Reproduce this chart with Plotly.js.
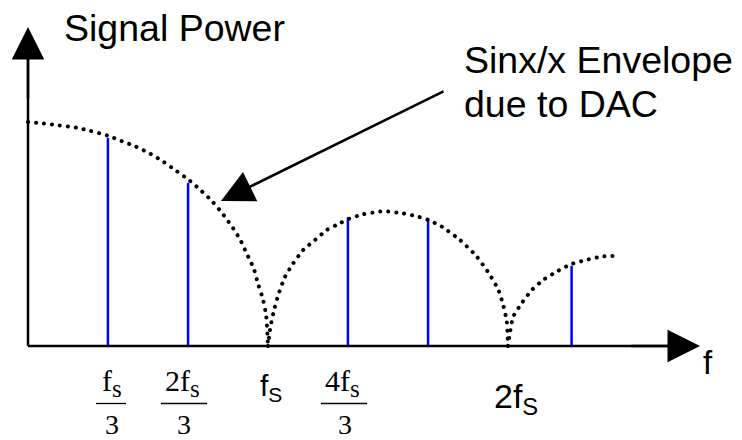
<!DOCTYPE html>
<html><head><meta charset="utf-8">
<script src="https://cdn.plot.ly/plotly-3.0.1.min.js"></script>
<style>
html,body{margin:0;padding:0;background:#fff;}
#chart{width:742px;height:440px;}
.scatterlayer .js-line{stroke-linecap:round;}
</style></head><body><div id="chart"></div>
<script>
// Envelope (sin x / x), frequency in units of fs, amplitude relative to DC
const lobe1F = [0, 0.065, 0.13, 0.2, 0.26, 0.33, 0.39, 0.45, 0.51, 0.565, 0.62, 0.675, 0.725, 0.77, 0.815, 0.855, 0.885, 0.91, 0.94, 0.96, 0.98, 0.993, 1.0];
const lobe1A = [1.0, 0.993, 0.985, 0.975, 0.96, 0.94, 0.915, 0.89, 0.858, 0.822, 0.78, 0.737, 0.69, 0.643, 0.585, 0.525, 0.473, 0.415, 0.347, 0.272, 0.205, 0.13, 0];
const lobe2F = [1.0, 1.008, 1.022, 1.043, 1.071, 1.105, 1.147, 1.196, 1.245, 1.3, 1.335, 1.397, 1.467, 1.5, 1.564, 1.626, 1.668, 1.724, 1.8, 1.87, 1.925, 1.96, 1.98, 1.995, 2.0];
const lobe2A = [0, 0.071, 0.146, 0.228, 0.309, 0.369, 0.429, 0.473, 0.518, 0.548, 0.567, 0.588, 0.6, 0.6, 0.592, 0.577, 0.5625, 0.533, 0.473, 0.399, 0.317, 0.25, 0.183, 0.108, 0];
const lobe3F = [2.0, 2.008, 2.022, 2.057, 2.099, 2.147, 2.203, 2.2625, 2.325, 2.39, 2.455];
const lobe3A = [0, 0.057, 0.131, 0.191, 0.25, 0.295, 0.332, 0.365, 0.384, 0.399, 0.403];

// Signal tones (blue lines)
const toneF = [0.333, 0.667, 1.333, 1.667, 2.265];
const toneA = [0.924, 0.723, 0.569, 0.567, 0.354];

// Tick labels
const fracF = [1/3, 2/3, 4/3];
const fracNum = ['f', '2f', '4f'];
const fracSub = ['s', 's', 's'];
const fracDen = ['3', '3', '3'];
const plainF = [1, 2];
const plainLab = ['f<sub>S</sub>', '2f<sub>S</sub>'];

// ---- pixel helpers (layout only) ----
const X0 = 28, PXF = 240, Y0 = 346, PYA = 224;
const px2x = p => (p - X0) / PXF;
const py2y = p => (Y0 - p) / PYA;

const SANS = 'Liberation Sans, Arial, sans-serif';
const SERIF = 'Liberation Serif, Times New Roman, serif';

// tone stems
const stemX = [], stemY = [];
toneF.forEach((f, i) => { stemX.push(f, f, null); stemY.push(0, toneA[i], null); });

const dotLine = {color: '#000', width: 4, dash: '0.1px,7.9px', shape: 'spline', smoothing: 0.6};
const traces = [
  {x: stemX, y: stemY, mode: 'lines', line: {color: '#0000ff', width: 2.5}, hoverinfo: 'skip'},
  {x: lobe1F, y: lobe1A, mode: 'lines', line: dotLine, hoverinfo: 'skip'},
  {x: lobe2F, y: lobe2A, mode: 'lines', line: dotLine, hoverinfo: 'skip'},
  {x: lobe3F, y: lobe3A, mode: 'lines', line: dotLine, hoverinfo: 'skip'}
];

const annotations = [];
const shapes = [];
const AW = 2.5, AS = 2.6;
// axes lines
shapes.push({type: 'line', xref: 'x', yref: 'y', x0: 0, y0: 0, x1: px2x(685), y1: 0, line: {color: '#000', width: 2.5}});
shapes.push({type: 'line', xref: 'x', yref: 'y', x0: 0, y0: 0, x1: 0, y1: py2y(40), line: {color: '#000', width: 2.5}});
// arrowheads
annotations.push({xref: 'x', yref: 'y', axref: 'x', ayref: 'y', x: px2x(700), y: 0, ax: px2x(630), ay: 0,
  text: '', showarrow: true, arrowhead: 2, arrowsize: AS, arrowwidth: AW, arrowcolor: '#000', standoff: 0});
annotations.push({xref: 'x', yref: 'y', axref: 'x', ayref: 'y', x: 0, y: py2y(27), ax: 0, ay: py2y(100),
  text: '', showarrow: true, arrowhead: 2, arrowsize: AS, arrowwidth: AW, arrowcolor: '#000', standoff: 0});
// pointer arrow
annotations.push({xref: 'x', yref: 'y', axref: 'x', ayref: 'y', x: px2x(221), y: py2y(201), ax: px2x(445), ay: py2y(90.7),
  text: '', showarrow: true, arrowhead: 2, arrowsize: AS, arrowwidth: AW, arrowcolor: '#000', standoff: 0});

// texts
annotations.push({xref: 'x', yref: 'y', x: px2x(62), y: py2y(28), xanchor: 'left', yanchor: 'middle',
  text: 'Signal Power', showarrow: false, font: {family: SANS, size: 37.5, color: '#000'}});
annotations.push({xref: 'x', yref: 'y', x: px2x(462), y: py2y(60), xanchor: 'left', yanchor: 'middle',
  text: 'Sinx/x Envelope', showarrow: false, font: {family: SANS, size: 37.5, color: '#000'}});
annotations.push({xref: 'x', yref: 'y', x: px2x(462), y: py2y(103.7), xanchor: 'left', yanchor: 'middle',
  text: 'due to DAC', showarrow: false, font: {family: SANS, size: 37.5, color: '#000'}});
annotations.push({xref: 'x', yref: 'y', x: px2x(708), y: py2y(362.6), xanchor: 'center', yanchor: 'middle',
  text: 'f', showarrow: false, font: {family: SANS, size: 33, color: '#000'}});

// tick labels: fractions
const numShift = [4, -6, -6], denShift = [4, -4, -3], barHalf = [15, 23, 23], barShift = [3, -4, -4];
fracF.forEach((f, i) => {
  annotations.push({xref: 'x', yref: 'y', x: f, y: py2y(382.5), xshift: numShift[i], xanchor: 'center', yanchor: 'middle',
    text: fracNum[i] + '<sub><span style="font-size:25px">' + fracSub[i] + '</span></sub>',
    showarrow: false, font: {family: SERIF, size: 30, color: '#000'}});
  annotations.push({xref: 'x', yref: 'y', x: f, y: py2y(424.5), xshift: denShift[i], xanchor: 'center', yanchor: 'middle',
    text: fracDen[i], showarrow: false, font: {family: SERIF, size: 28, color: '#000'}});
  shapes.push({type: 'line', xref: 'x', yref: 'y', xsizemode: 'pixel', xanchor: f,
    x0: barShift[i] - barHalf[i], x1: barShift[i] + barHalf[i], y0: py2y(403.5), y1: py2y(403.5),
    line: {color: '#000', width: 1.3}});
});
// tick labels: plain
const plainSize = [30, 34], plainY = [387.8, 398.7], plainShift = [2.5, 8];
plainF.forEach((f, i) => {
  annotations.push({xref: 'x', yref: 'y', x: f, y: py2y(plainY[i]), xshift: plainShift[i], xanchor: 'center', yanchor: 'middle',
    text: plainLab[i], showarrow: false, font: {family: SANS, size: plainSize[i], color: '#000'}});
});

const layout = {
  width: 742, height: 440,
  margin: {l: 0, r: 0, t: 0, b: 0, pad: 0},
  paper_bgcolor: '#fff', plot_bgcolor: '#fff',
  showlegend: false, hovermode: false,
  xaxis: {visible: false, range: [px2x(0), px2x(742)], fixedrange: true},
  yaxis: {visible: false, range: [py2y(440), py2y(0)], fixedrange: true},
  annotations: annotations,
  shapes: shapes
};
Plotly.newPlot('chart', traces, layout, {staticPlot: true, displayModeBar: false});
</script></body></html>
